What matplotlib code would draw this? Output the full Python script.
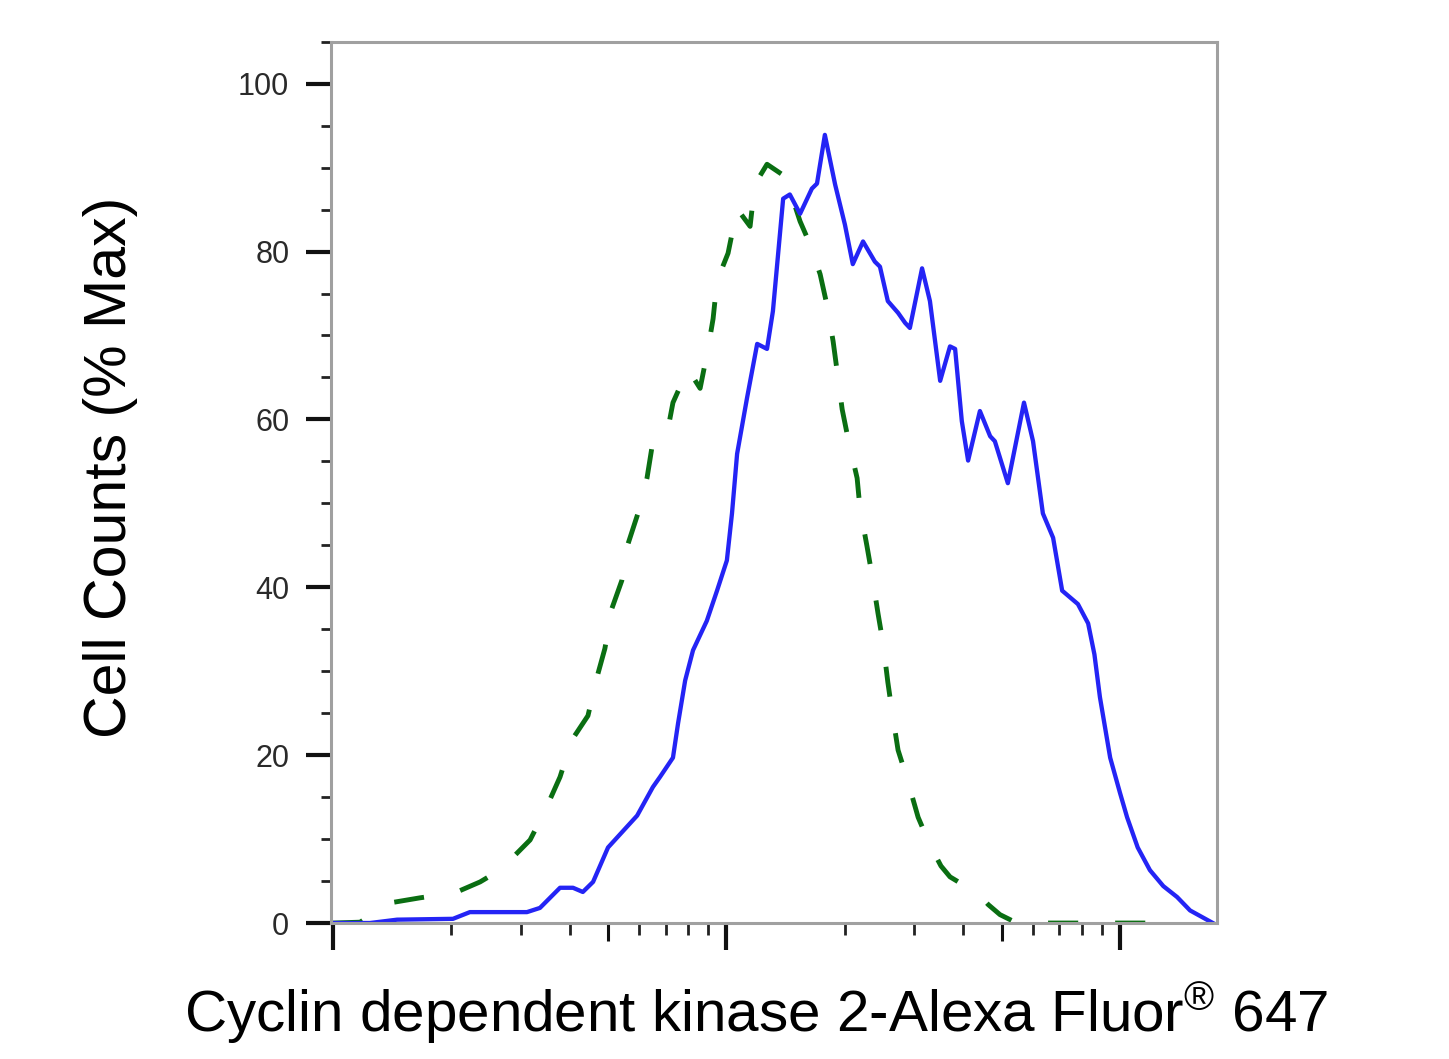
import numpy as np
import matplotlib
matplotlib.use("Agg")
import matplotlib.pyplot as plt
from matplotlib.ticker import FixedLocator, NullFormatter

plt.rcParams['font.family'] = ['Liberation Sans', 'DejaVu Sans']
plt.rcParams['mathtext.fontset'] = 'custom'
plt.rcParams['mathtext.rm'] = 'Liberation Sans'
plt.rcParams['mathtext.default'] = 'regular'

# stained sample (blue solid), log10 of fluorescence intensity and % of max
stained_log = [2.000, 2.094, 2.163, 2.305, 2.348, 2.493, 2.526, 2.577, 2.610, 2.635,
               2.661, 2.699, 2.773, 2.813, 2.831, 2.864, 2.877, 2.895, 2.915, 2.950,
               2.976, 3.001, 3.014, 3.027, 3.052, 3.078, 3.103, 3.118, 3.144, 3.161,
               3.187, 3.217, 3.230, 3.250, 3.276, 3.301, 3.321, 3.347, 3.377, 3.390,
               3.410, 3.436, 3.454, 3.466, 3.497, 3.517, 3.543, 3.568, 3.581, 3.598,
               3.614, 3.644, 3.670, 3.682, 3.715, 3.756, 3.779, 3.804, 3.830, 3.853,
               3.893, 3.919, 3.935, 3.949, 3.975, 4.000, 4.018, 4.045, 4.076, 4.110,
               4.145, 4.178, 4.236]
stained_pct = [0.0, 0.0, 0.4, 0.5, 1.3, 1.3, 1.8, 4.2, 4.2, 3.7,
               4.9, 9.0, 12.8, 16.2, 17.4, 19.7, 23.8, 28.9, 32.5, 36.0,
               39.6, 43.2, 48.8, 55.9, 62.5, 69.0, 68.4, 72.9, 86.3, 86.8,
               84.5, 87.5, 88.1, 93.9, 88.0, 83.2, 78.5, 81.2, 78.8, 78.2,
               74.1, 72.7, 71.5, 70.9, 78.0, 74.1, 64.6, 68.7, 68.4, 59.8,
               55.1, 61.0, 58.0, 57.4, 52.4, 62.0, 57.4, 48.8, 45.9, 39.6,
               38.0, 35.7, 32.0, 26.9, 19.7, 15.5, 12.6, 9.0, 6.3, 4.4,
               3.1, 1.5, 0.0]

# isotype control (green dashed)
control_log = [2.000, 2.069, 2.107, 2.145, 2.221, 2.310, 2.374, 2.424, 2.463, 2.501,
               2.539, 2.577, 2.607, 2.648, 2.671, 2.691, 2.709, 2.734, 2.750, 2.775,
               2.798, 2.811, 2.849, 2.864, 2.902, 2.933, 2.953, 2.966, 2.976, 3.004,
               3.027, 3.060, 3.072, 3.103, 3.141, 3.154, 3.187, 3.212, 3.238, 3.255,
               3.271, 3.281, 3.294, 3.309, 3.332, 3.339, 3.357, 3.370, 3.385, 3.398,
               3.410, 3.421, 3.436, 3.459, 3.487, 3.517, 3.545, 3.568, 3.600, 3.632,
               3.665, 3.695, 3.725, 3.754, 4.114]
control_pct = [0.0, 0.1, 1.3, 2.4, 3.0, 3.6, 4.9, 6.3, 8.1, 9.9,
               13.4, 17.4, 21.8, 24.7, 29.3, 32.7, 37.5, 40.8, 45.2, 48.8,
               53.0, 56.8, 58.3, 62.0, 66.0, 63.7, 68.4, 72.0, 76.5, 79.8,
               85.1, 83.0, 88.0, 90.4, 89.2, 88.3, 83.6, 80.9, 77.3, 73.7,
               69.3, 65.8, 61.2, 57.7, 53.0, 49.5, 44.9, 41.4, 36.9, 33.3,
               28.7, 25.1, 20.6, 17.2, 12.6, 9.3, 6.8, 5.5, 4.6, 3.9,
               2.2, 1.0, 0.3, 0.0, 0.0]

y_major = [0, 20, 40, 60, 80, 100]
xlabel = 'Cyclin dependent kinase 2-Alexa Fluor$^{®}$ 647'
ylabel = 'Cell Counts (% Max)'

fig = plt.figure(figsize=(14.49, 10.59), dpi=100)
ax = fig.add_axes([0.2284, 0.1284, 0.6115, 0.8322])

ax.plot(10 ** np.array(control_log), control_pct, color='#0a6e12', lw=3.5,
        dashes=(6.2, 7.6), dash_capstyle='butt', dash_joinstyle='round')
ax.plot(10 ** np.array(stained_log), stained_pct, color='#2424f5', lw=3.1,
        solid_joinstyle='round')

ax.set_xscale('log')
ax.set_xlim(10 ** (2 - 2 / 393.5), 10 ** (2 + 884 / 393.5))
ax.set_ylim(0, 105)

# x ticks: decades long, the 5s middle, the rest short (lengths in points)
x_major = [1e2, 5e2, 1e3, 5e3, 1e4]
ax.xaxis.set_major_locator(FixedLocator(x_major))
ax.xaxis.set_major_formatter(NullFormatter())
ax.xaxis.set_minor_locator(FixedLocator([m * 10 ** k for k in (2, 3, 4)
                                         for m in (2, 3, 4, 6, 7, 8, 9)]))
ax.xaxis.set_minor_formatter(NullFormatter())
ax.tick_params(axis='x', which='major', direction='out', length=19.5, width=3.0,
               color='#111111')
ax.tick_params(axis='x', which='minor', direction='out', length=8.5, width=2.0,
               color='#222222')
for val, t in zip(x_major, ax.xaxis.get_major_ticks()):
    if val in (5e2, 5e3):
        t.tick1line.set_markersize(13)
        t.tick1line.set_markeredgewidth(2.2)

ax.set_yticks(y_major)
ax.set_yticks(np.arange(0, 106, 5), minor=True)
ax.tick_params(axis='y', which='major', direction='out', length=18, width=3.0,
               color='#111111', pad=12, labelsize=22, labelcolor='#2a2a2a')
ax.tick_params(axis='y', which='minor', direction='out', length=7.2, width=2.0,
               color='#222222')

for s in ax.spines.values():
    s.set_color('#a0a0a0')
    s.set_linewidth(2.2)

fig.text(0.522, 1 - 1033 / 1059, xlabel, ha='center', va='baseline', fontsize=42)
fig.text(0.0765, 0.559, ylabel, ha='center', va='center', rotation=90,
         fontsize=42.5)

fig.savefig('out.png', dpi=100)
